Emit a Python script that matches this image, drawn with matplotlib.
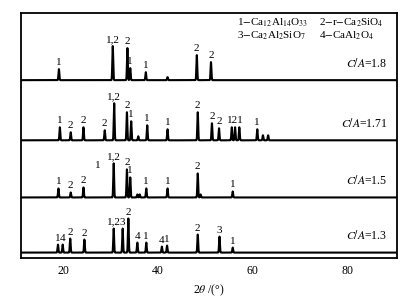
import numpy as np
import matplotlib
matplotlib.use("Agg")
import matplotlib.pyplot as plt

plt.rcParams["font.family"] = ["Liberation Serif", "DejaVu Serif"]
plt.rcParams["mathtext.fontset"] = "stix"

# peak positions (2theta, deg), heights (a.u.) and phase labels per sample
ratios = ["1.3", "1.5", "1.71", "1.8"]

pos_13 = [18.8, 19.8, 21.4, 24.4, 30.6, 32.5, 33.7, 35.6, 37.5, 40.8, 41.9, 48.4, 53.0, 55.8]
hgt_13 = [8, 8, 14, 13, 24, 24, 34, 10, 10, 6, 7, 18, 16, 5]
lab_13 = ["1", "4", "2", "2", "1,2", "3", "2", "4", "1", "4", "1", "2", "3", "1"]

pos_15 = [18.9, 21.5, 24.2, 30.6, 33.4, 34.1, 35.6, 36.1, 37.5, 42.0, 48.4, 49.0, 55.8]
hgt_15 = [9, 5, 10, 34, 28, 20, 3, 3, 9, 9, 24, 3, 6]
lab_15 = ["1", "2", "2", "1,2", "2", "1", "", "", "1", "1", "2", "", "1"]

# the three close peaks near 56 deg share one label "121"
pos_171 = [19.2, 21.5, 24.2, 28.7, 30.7, 33.4, 34.3, 35.8, 37.7, 42.0, 48.4,
           51.4, 52.9, 55.6, 56.3, 57.2, 61.0, 62.2, 63.3]
hgt_171 = [13, 8, 13, 10, 37, 28, 19, 4, 15, 11, 28, 17, 12, 13, 13, 13, 11, 5, 5]
lab_171 = ["1", "2", "2", "2", "1,2", "2", "1", "", "1", "1", "2",
           "2", "2", "", "121", "", "1", "", ""]

pos_18 = [19.0, 30.4, 33.5, 34.1, 37.4, 42.0, 48.2, 51.2]
hgt_18 = [11, 34, 32, 12, 8, 3, 25, 18]
lab_18 = ["1", "1,2", "2", "1", "1", "", "2", "2"]

# extra floating label on the C/A=1.5 trace (no distinct peak underneath)
extra_15 = (27.2, 27, "1")

samples = [(pos_13, hgt_13, lab_13), (pos_15, hgt_15, lab_15),
           (pos_171, hgt_171, lab_171), (pos_18, hgt_18, lab_18)]
offsets = [5, 60, 117, 177]

fig = plt.figure(figsize=(4.06, 3.02), dpi=100)
ax = fig.add_axes([0.052, 0.147, 0.926, 0.81])

x = np.linspace(11, 90.6, 6000)
for (pos, hgt, lab), off, r in zip(samples, offsets, ratios):
    y = np.zeros_like(x)
    for p, h in zip(pos, hgt):
        y += h * np.exp(-0.5 * ((x - p) / 0.09) ** 2)
    ax.plot(x, y + off, color="black", lw=1.5)
    for p, h, t in zip(pos, hgt, lab):
        if t:
            ax.text(p, off + h + 2, t, ha="center", va="bottom", fontsize=8)
    ax.text(88.6, off + 17, r"$C/A$" + "=" + r, ha="right", va="center", fontsize=8.5)

ax.text(extra_15[0], offsets[1] + extra_15[1], extra_15[2], ha="center", va="bottom", fontsize=8)

# phase legend
ax.text(56.7, 234, r"1$-$Ca$_{12}$Al$_{14}$O$_{33}$", ha="left", va="center", fontsize=8)
ax.text(74.1, 234, r"2$-$r$-$Ca$_2$SiO$_4$", ha="left", va="center", fontsize=8)
ax.text(56.7, 221, r"3$-$Ca$_2$Al$_2$SiO$_7$", ha="left", va="center", fontsize=8)
ax.text(74.1, 221, r"4$-$CaAl$_2$O$_4$", ha="left", va="center", fontsize=8)

ax.set_xlim(11, 90.6)
ax.set_ylim(0, 244)
ax.set_yticks([])
ax.set_xticks([20, 40, 60, 80])
ax.tick_params(axis="x", length=0, labelsize=8.5, pad=5)
ax.set_xlabel(r"2$\theta$ /(°)", fontsize=8.5, labelpad=4)
for s in ax.spines.values():
    s.set_linewidth(1.3)

fig.savefig("out.png", dpi=100)
